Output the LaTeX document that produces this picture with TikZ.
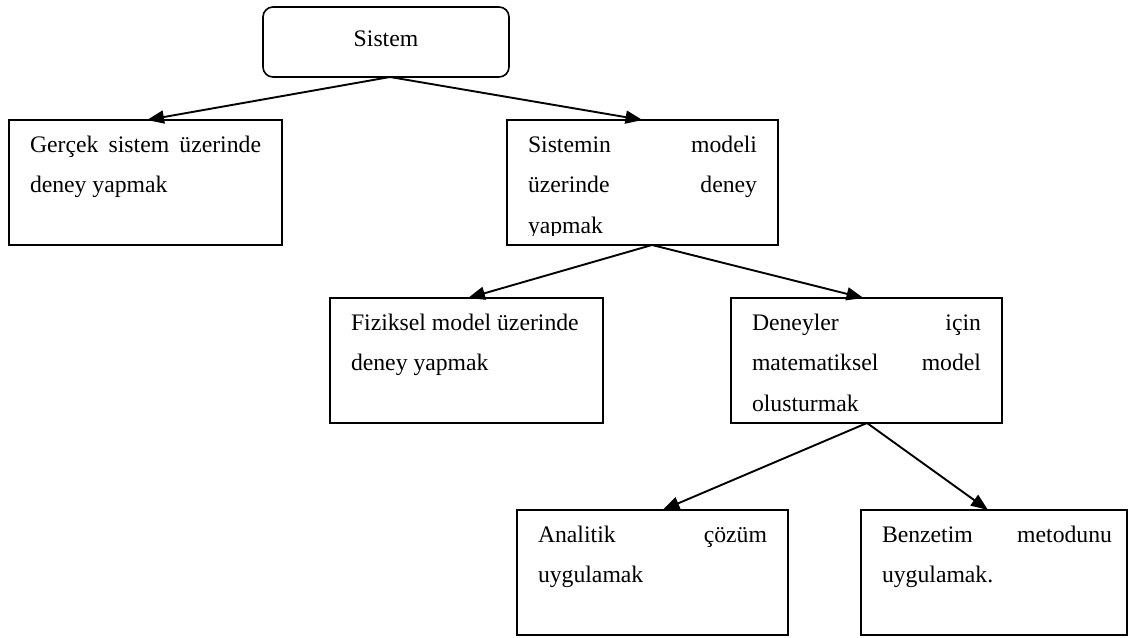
\documentclass[tikz,border=0pt]{standalone}
\usepackage{fontspec}
\setmainfont{Liberation Serif}
\usetikzlibrary{arrows.meta}

% Text block of a box: total width #1, height #2, line width #3, lines #4.
% The first baseline sits 32pt below the top edge; lines are 40.5pt apart.
\newcommand{\cellbody}[4]{%
  \hbox to #1{\hskip 21pt\vbox to #2{\hsize=#3\relax
    \baselineskip=40.5pt \parindent=0pt \parfillskip=0pt plus 1fil
    \noindent\rule{0pt}{32pt}#4\par\vfill}\hss}}

\tikzset{
  cell/.style={inner sep=0pt, outer sep=0pt, anchor=north west, line width=1.6pt,
    font=\fontsize{23.7}{40.5}\selectfont},
  framed/.style={cell, draw},
  frame/.style={line width=1.6pt},
  link/.style={line width=1.9pt, -{Triangle[length=17pt,width=13pt]}}
}

\begin{document}
\begin{tikzpicture}[x=1pt, y=-1pt]
\useasboundingbox (0,0) rectangle (1129,637);

% top level
\node[framed, rounded corners=10pt] (sistem) at (263,7)
  {\cellbody{246pt}{70pt}{204pt}{\rule{0pt}{39pt}\hfill Sistem\hfill\null}};

% second level
\node[framed] (gercek) at (9,120)
  {\cellbody{273pt}{125pt}{231pt}{Gerçek\hfill sistem\hfill üzerinde\\deney yapmak}};

\begin{scope}
  \clip (507,120) rectangle (778,235);
  \node[cell] (sistemin) at (507,120)
    {\cellbody{271pt}{125pt}{229pt}{Sistemin\hfill modeli\\üzerinde\hfill deney\\yapmak}};
\end{scope}
\draw[frame] (sistemin.north west) rectangle (sistemin.south east);

% third level
\node[framed] (fiziksel) at (330,298)
  {\cellbody{273pt}{125pt}{231pt}{Fiziksel model üzerinde\\deney yapmak}};
\node[framed] (deneyler) at (731,298)
  {\cellbody{271pt}{125pt}{229pt}{Deneyler\hfill için\\matematiksel\hfill model\\olusturmak}};

% fourth level
\node[framed] (analitik) at (517,510)
  {\cellbody{271pt}{125pt}{229pt}{Analitik\hfill çözüm\\uygulamak}};
\node[framed] (benzetim) at (861,510)
  {\cellbody{266pt}{125pt}{230pt}{Benzetim\hfill metodunu\\uygulamak.}};

% connectors
\draw[link] ([xshift=4pt]sistem.south) -- ([xshift=1.5pt]gercek.north);
\draw[link] ([xshift=4pt]sistem.south) -- (sistemin.north);
\draw[link] ([xshift=9.5pt]sistemin.south) -- ([xshift=1.5pt]fiziksel.north);
\draw[link] ([xshift=9.5pt]sistemin.south) -- ([xshift=-3pt]deneyler.north);
\draw[link] ([xshift=0.5pt]deneyler.south) -- ([xshift=10pt]analitik.north);
\draw[link] ([xshift=0.5pt]deneyler.south) -- ([xshift=-6pt]benzetim.north);
\end{tikzpicture}
\end{document}
